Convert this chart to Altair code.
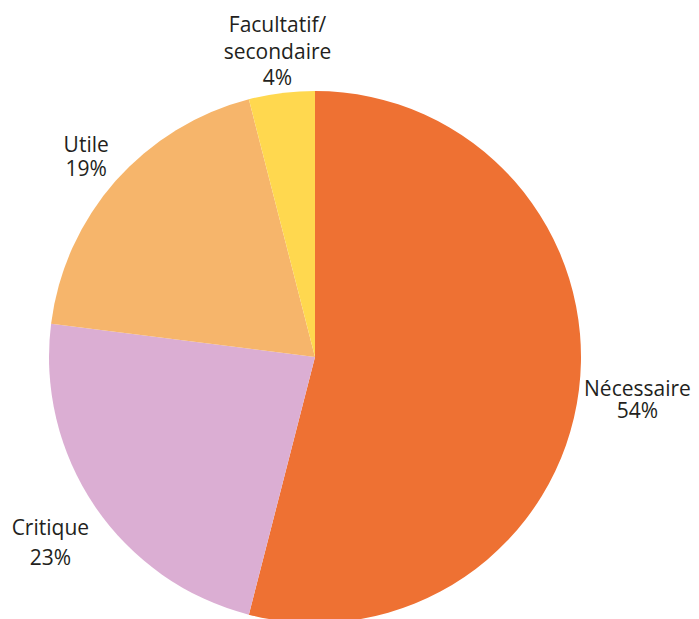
import altair as alt
import pandas as pd

categories = ["Nécessaire", "Critique", "Utile", "Facultatif/\nsecondaire"]
values = [54, 23, 19, 4]
colors = ["#EE7133", "#DBAED3", "#F6B56B", "#FFD84F"]

df = pd.DataFrame({
    "cat": categories,
    "value": values,
    "order": list(range(len(categories))),
})
df["label"] = df["cat"] + "\n" + df["value"].astype(str) + "%"
total = sum(values)

CX, CY = 307, 349

theta_scale = alt.Scale(domain=[0, total], range=[0, 6.283185307179586])

base = alt.Chart(df).transform_window(
    cum="sum(value)", sort=[alt.SortField("order")]
).transform_calculate(
    start="datum.cum - datum.value",
    mid="datum.cum - datum.value / 2",
)

pie = base.mark_arc(outerRadius=266, stroke=None).encode(
    theta=alt.Theta("start:Q", scale=theta_scale),
    theta2="cum:Q",
    color=alt.Color("cat:N", scale=alt.Scale(domain=categories, range=colors), legend=None),
    x=alt.value(CX),
    y=alt.value(CY),
)

# label styling per slice (same order as categories): (label radius, dy, line height)
label_style = [
    (325, -2, 22),
    (320, -2, 30),
    (305, -3, 24),
    (299, -28, 26.5),
]

layers = [pie]
for i, (rad, dy, lh) in enumerate(label_style):
    layers.append(
        base.transform_filter(alt.datum.order == i).mark_text(
            radius=rad,
            dy=dy,
            font="Open Sans",
            fontSize=21,
            lineHeight=lh,
            lineBreak="\n",
            color="#231F20",
            align="center",
            baseline="alphabetic",
        ).encode(
            theta=alt.Theta("mid:Q", scale=theta_scale),
            text="label:N",
            x=alt.value(CX),
            y=alt.value(CY),
        )
    )

chart = alt.layer(*layers).properties(
    width=683, height=611, padding=0,
    autosize=alt.AutoSizeParams(type="none"),
).configure_view(stroke=None)

chart.save("out.html", embed_options={"renderer": "svg", "actions": False})
